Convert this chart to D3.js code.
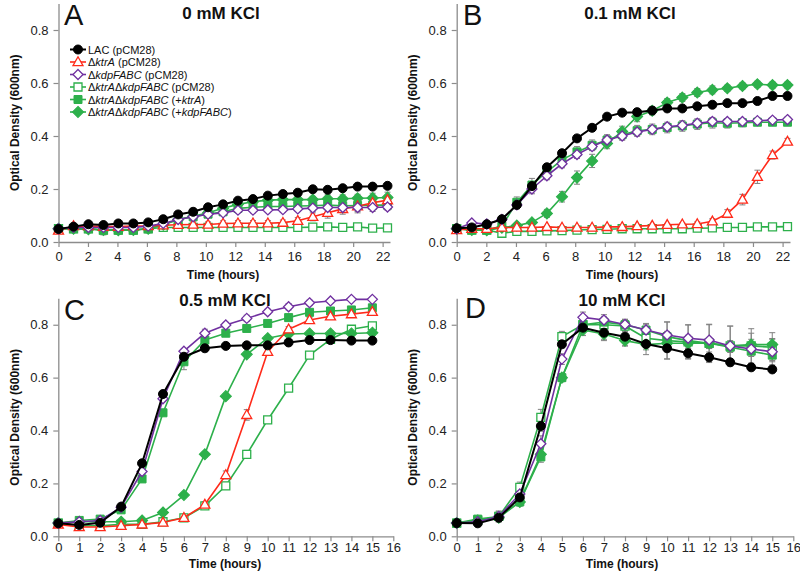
<!DOCTYPE html>
<html><head><meta charset="utf-8">
<script src="https://cdn.jsdelivr.net/npm/d3@7"></script>
<style>
html,body{margin:0;padding:0;background:#fff;}
svg{display:block;font-family:"Liberation Sans",Arial,sans-serif;}
</style></head>
<body><svg id="chart" width="800" height="578"></svg>
<script>
// ---------- DATA ----------
const timesLong = [0,1.02,2.03,3.05,4.06,5.08,6.09,7.11,8.12,9.14,10.15,11.17,12.18,13.2,14.21,15.23,16.24,17.26,18.27,19.29,20.3,21.32,22.33];
const timesShort = [0,1,2,3,4,5,6,7,8,9,10,11,12,13,14,15];
const xTicksLong = [0,2,4,6,8,10,12,14,16,18,20,22];
const xTicksShort = [0,1,2,3,4,5,6,7,8,9,10,11,12,13,14,15,16];
const yTicks = [0,0.2,0.4,0.6,0.8];
const panelTitles = ["0 mM KCl","0.1 mM KCl","0.5 mM KCl","10 mM KCl"];
const panelLetters = ["A","B","C","D"];

// Panel A (0 mM KCl)
const A_lac     = [0.049,0.058,0.067,0.064,0.07,0.07,0.074,0.086,0.104,0.114,0.131,0.142,0.156,0.162,0.175,0.181,0.186,0.199,0.197,0.203,0.209,0.209,0.212];
const A_ktrA    = [0.043,0.06,0.06,0.058,0.058,0.06,0.06,0.063,0.065,0.066,0.066,0.07,0.071,0.071,0.071,0.073,0.08,0.095,0.11,0.125,0.135,0.148,0.158];
const A_kdp     = [0.05,0.055,0.055,0.055,0.055,0.055,0.06,0.07,0.085,0.095,0.105,0.11,0.12,0.12,0.121,0.122,0.125,0.128,0.13,0.13,0.13,0.13,0.132];
const A_dbl     = [0.05,0.05,0.05,0.045,0.045,0.045,0.05,0.055,0.055,0.055,0.055,0.055,0.055,0.055,0.055,0.055,0.055,0.056,0.057,0.055,0.057,0.052,0.053];
const A_dblKtr  = [0.05,0.05,0.05,0.045,0.045,0.045,0.05,0.065,0.085,0.095,0.105,0.114,0.127,0.131,0.134,0.134,0.136,0.137,0.139,0.137,0.138,0.139,0.139];
const A_dblKdp  = [0.05,0.05,0.048,0.045,0.044,0.045,0.05,0.065,0.085,0.097,0.11,0.127,0.142,0.152,0.158,0.16,0.16,0.16,0.163,0.163,0.165,0.166,0.168];
const A_err_lac    = [0,0.004,0.004,0.004,0.004,0.004,0.004,0.005,0.005,0.005,0.005,0.005,0.005,0.005,0.005,0.005,0.005,0.005,0.005,0.005,0.005,0.005,0.005];
const A_err_ktrA   = [0,0.005,0.005,0.008,0.008,0.008,0.008,0.01,0.01,0.01,0.01,0.01,0.01,0.01,0.01,0.01,0.012,0.015,0.02,0.02,0.025,0.02,0.015];
const A_err_kdp    = [0,0.006,0.006,0.008,0.008,0.008,0.008,0.01,0.01,0.01,0.01,0.01,0.01,0.01,0.01,0.01,0.01,0.012,0.012,0.015,0.015,0.015,0.012];
const A_err_dbl    = [0,0.008,0.01,0.018,0.015,0.015,0.015,0.015,0.015,0.015,0.012,0.01,0.01,0.01,0.01,0.008,0.008,0.008,0.008,0.006,0.006,0.005,0.005];
const A_err_dblKtr = [0,0.006,0.006,0.01,0.01,0.01,0.01,0.01,0.01,0.01,0.01,0.01,0.01,0.01,0.01,0.01,0.01,0.01,0.012,0.012,0.012,0.012,0.012];
const A_err_dblKdp = [0,0.006,0.006,0.01,0.01,0.01,0.01,0.01,0.01,0.01,0.01,0.01,0.01,0.01,0.012,0.012,0.012,0.012,0.015,0.015,0.015,0.018,0.02];

// Panel B (0.1 mM KCl)
const B_lac     = [0.052,0.055,0.067,0.086,0.14,0.211,0.282,0.335,0.391,0.431,0.473,0.488,0.49,0.496,0.504,0.504,0.512,0.518,0.524,0.524,0.532,0.551,0.551];
const B_ktrA    = [0.045,0.05,0.05,0.055,0.055,0.055,0.057,0.055,0.055,0.055,0.057,0.057,0.06,0.062,0.065,0.067,0.068,0.078,0.107,0.16,0.246,0.328,0.379];
const B_kdp     = [0.05,0.072,0.068,0.085,0.14,0.2,0.25,0.295,0.33,0.36,0.385,0.4,0.415,0.425,0.435,0.44,0.448,0.455,0.455,0.455,0.458,0.46,0.462];
const B_dbl     = [0.05,0.045,0.045,0.033,0.04,0.04,0.042,0.043,0.045,0.047,0.048,0.05,0.05,0.05,0.05,0.05,0.052,0.053,0.055,0.055,0.057,0.057,0.058];
const B_dblKtr  = [0.05,0.045,0.045,0.06,0.15,0.215,0.265,0.31,0.34,0.365,0.385,0.405,0.42,0.425,0.432,0.438,0.445,0.45,0.448,0.45,0.452,0.452,0.452];
const B_dblKdp  = [0.05,0.045,0.044,0.054,0.062,0.074,0.108,0.171,0.243,0.306,0.372,0.417,0.474,0.495,0.526,0.545,0.564,0.574,0.58,0.589,0.595,0.592,0.592];
const B_err_lac    = [0,0.005,0.005,0.008,0.01,0.01,0.01,0.01,0.01,0.01,0.008,0.008,0.008,0.008,0.008,0.008,0.008,0.008,0.008,0.008,0.008,0.008,0.008];
const B_err_ktrA   = [0,0.005,0.005,0.005,0.005,0.005,0.005,0.005,0.005,0.005,0.005,0.005,0.005,0.005,0.005,0.005,0.008,0.01,0.015,0.02,0.025,0.015,0.012];
const B_err_kdp    = [0,0.008,0.01,0.012,0.015,0.018,0.015,0.015,0.015,0.015,0.015,0.015,0.015,0.012,0.012,0.012,0.012,0.012,0.01,0.01,0.01,0.01,0.01];
const B_err_dbl    = [0,0.005,0.005,0.005,0.004,0.004,0.004,0.004,0.004,0.004,0.004,0.004,0.004,0.004,0.004,0.004,0.004,0.004,0.004,0.004,0.004,0.004,0.004];
const B_err_dblKtr = [0,0.008,0.012,0.015,0.02,0.025,0.02,0.02,0.02,0.02,0.02,0.02,0.02,0.02,0.02,0.02,0.02,0.02,0.018,0.015,0.012,0.012,0.012];
const B_err_dblKdp = [0,0.005,0.005,0.008,0.008,0.01,0.015,0.02,0.025,0.025,0.02,0.02,0.02,0.015,0.015,0.015,0.015,0.015,0.012,0.012,0.012,0.012,0.012];

// Panel C (0.5 mM KCl)
const C_lac     = [0.049,0.043,0.051,0.112,0.276,0.538,0.679,0.711,0.72,0.722,0.722,0.733,0.742,0.742,0.74,0.74];
const C_ktrA    = [0.045,0.035,0.035,0.04,0.045,0.052,0.07,0.12,0.232,0.459,0.698,0.783,0.818,0.832,0.84,0.849];
const C_kdp     = [0.05,0.055,0.06,0.11,0.245,0.52,0.7,0.768,0.799,0.824,0.849,0.868,0.883,0.89,0.896,0.896];
const C_dbl     = [0.05,0.04,0.04,0.045,0.045,0.055,0.07,0.115,0.191,0.31,0.44,0.56,0.685,0.745,0.783,0.796];
const C_dblKtr  = [0.05,0.06,0.065,0.1,0.217,0.467,0.66,0.742,0.768,0.786,0.805,0.827,0.847,0.852,0.856,0.864];
const C_dblKdp  = [0.05,0.055,0.055,0.055,0.06,0.09,0.156,0.31,0.53,0.688,0.749,0.765,0.767,0.767,0.767,0.77];
const C_err_lac    = [0,0.005,0.005,0.008,0.01,0.01,0.01,0.008,0.008,0.008,0.008,0.008,0.008,0.008,0.008,0.01];
const C_err_ktrA   = [0,0.005,0.005,0.005,0.005,0.005,0.008,0.01,0.015,0.02,0.01,0.01,0.01,0.01,0.01,0.01];
const C_err_kdp    = [0,0.005,0.005,0.008,0.01,0.01,0.01,0.015,0.01,0.012,0.01,0.012,0.01,0.008,0.008,0.008];
const C_err_dbl    = [0,0.005,0.005,0.005,0.005,0.005,0.008,0.01,0.012,0.015,0.01,0.01,0.01,0.01,0.01,0.01];
const C_err_dblKtr = [0,0.005,0.005,0.008,0.01,0.01,0.03,0.01,0.01,0.01,0.01,0.012,0.01,0.01,0.01,0.01];
const C_err_dblKdp = [0,0.005,0.005,0.005,0.005,0.005,0.008,0.01,0.01,0.01,0.01,0.01,0.01,0.01,0.01,0.01];

// Panel D (10 mM KCl)
const D_lac     = [0.05,0.049,0.07,0.147,0.417,0.726,0.789,0.77,0.755,0.727,0.711,0.692,0.677,0.658,0.639,0.631];
const D_kdp     = [0.05,0.055,0.075,0.16,0.35,0.67,0.828,0.818,0.801,0.78,0.761,0.749,0.742,0.72,0.708,0.698];
const D_dbl     = [0.05,0.06,0.075,0.185,0.45,0.755,0.8,0.8,0.795,0.749,0.74,0.735,0.73,0.72,0.72,0.715];
const D_dblKtr  = [0.05,0.065,0.075,0.13,0.3,0.6,0.8,0.81,0.8,0.78,0.755,0.74,0.73,0.715,0.7,0.685];
const D_dblKdp  = [0.05,0.06,0.07,0.13,0.31,0.6,0.78,0.765,0.74,0.725,0.73,0.73,0.73,0.72,0.725,0.725];
const D_err_lac    = [0,0.005,0.008,0.01,0.02,0.01,0.03,0.03,0.035,0.04,0.04,0.02,0.02,0.01,0.01,0.005];
const D_err_kdp    = [0,0.01,0.02,0.02,0.03,0.02,0.02,0.02,0.02,0.025,0.05,0.05,0.06,0.075,0.06,0.05];
const D_err_dbl    = [0,0.01,0.02,0.02,0.03,0.02,0.02,0.02,0.02,0.03,0.07,0.065,0.07,0.075,0.065,0.055];
const D_err_dblKtr = [0,0.01,0.015,0.015,0.02,0.015,0.02,0.02,0.02,0.02,0.02,0.02,0.02,0.02,0.02,0.02];
const D_err_dblKdp = [0,0.01,0.015,0.015,0.02,0.015,0.02,0.02,0.02,0.02,0.02,0.02,0.02,0.02,0.02,0.02];

// series styles
const seriesKeys = ["dbl","dblKtr","dblKdp","ktrA","kdp","lac"];
const legendKeys = ["lac","ktrA","kdp","dbl","dblKtr","dblKdp"];
const GREEN = "#2db04b";
const style = {
  lac:    {color:"#000000", shape:"circle",   fill:true,  lw:2},
  ktrA:   {color:"#ff2a1a", shape:"triangle", fill:false, lw:1.6},
  kdp:    {color:"#7030a0", shape:"diamond",  fill:false, lw:1.6},
  dbl:    {color:GREEN,     shape:"square",   fill:false, lw:1.6},
  dblKtr: {color:GREEN,     shape:"square",   fill:true,  lw:1.6},
  dblKdp: {color:GREEN,     shape:"diamond",  fill:true,  lw:1.6}
};
// legend label parts [text, italic]
const legendLabels = {
  lac:    [["LAC (pCM28)",false]],
  ktrA:   [["Δ",false],["ktrA",true],[" (pCM28)",false]],
  kdp:    [["Δ",false],["kdpFABC",true],[" (pCM28)",false]],
  dbl:    [["Δ",false],["ktrA",true],["Δ",false],["kdpFABC",true],[" (pCM28)",false]],
  dblKtr: [["Δ",false],["ktrA",true],["Δ",false],["kdpFABC",true],[" (+",false],["ktrA",true],[")",false]],
  dblKdp: [["Δ",false],["ktrA",true],["Δ",false],["kdpFABC",true],[" (+",false],["kdpFABC",true],[")",false]]
};

const panels = [
  {times:timesLong, ticks:xTicksLong, xmax:22.5, left:58.5, right:390, top:3.5, bottom:242, tickY:19,
   title:panelTitles[0], letter:panelLetters[0], titleX:221, titleY:19, letterX:64, letterY:25, xlabX:223, xlabY:279, ylabX:19, legend:true,
   data:{lac:[A_lac,A_err_lac], ktrA:[A_ktrA,A_err_ktrA], kdp:[A_kdp,A_err_kdp], dbl:[A_dbl,A_err_dbl], dblKtr:[A_dblKtr,A_err_dblKtr], dblKdp:[A_dblKdp,A_err_dblKdp]}},
  {times:timesLong, ticks:xTicksLong, xmax:22.5, left:456.7, right:790, top:3.5, bottom:242, tickY:19,
   title:panelTitles[1], letter:panelLetters[1], titleX:630, titleY:19, letterX:463, letterY:25, xlabX:622, xlabY:279, ylabX:417,
   data:{lac:[B_lac,B_err_lac], ktrA:[B_ktrA,B_err_ktrA], kdp:[B_kdp,B_err_kdp], dbl:[B_dbl,B_err_dbl], dblKtr:[B_dblKtr,B_err_dblKtr], dblKdp:[B_dblKdp,B_err_dblKdp]}},
  {times:timesShort, ticks:xTicksShort, xmax:16, left:58.3, right:393.3, top:298.3, bottom:536.3, tickY:16,
   title:panelTitles[2], letter:panelLetters[2], titleX:225, titleY:306, letterX:64, letterY:320, xlabX:225, xlabY:568, ylabX:19,
   data:{lac:[C_lac,C_err_lac], ktrA:[C_ktrA,C_err_ktrA], kdp:[C_kdp,C_err_kdp], dbl:[C_dbl,C_err_dbl], dblKtr:[C_dblKtr,C_err_dblKtr], dblKdp:[C_dblKdp,C_err_dblKdp]}},
  {times:timesShort, ticks:xTicksShort, xmax:16, left:456.7, right:793.3, top:298.3, bottom:536.3, tickY:16,
   title:panelTitles[3], letter:panelLetters[3], titleX:622, titleY:306, letterX:465, letterY:318, xlabX:622, xlabY:568, ylabX:417,
   data:{lac:[D_lac,D_err_lac], kdp:[D_kdp,D_err_kdp], dbl:[D_dbl,D_err_dbl], dblKtr:[D_dblKtr,D_err_dblKtr], dblKdp:[D_dblKdp,D_err_dblKdp]}}
];

// ---------- DRAW ----------
const svg = d3.select("#chart");
const AXIS = "#8c8c8c";

function markerPath(shape){
  if(shape==="triangle") return "M0,-5.2L5,3.6L-5,3.6Z";
  if(shape==="diamond") return "M0,-5L5,0L0,5L-5,0Z";
  if(shape==="square") return "M-4,-4L4,-4L4,4L-4,4Z";
  return null;
}
function drawMarker(g, shape, color, filled, x, y){
  const fillc = filled ? color : "#fff";
  if(shape==="circle"){
    g.append("circle").attr("cx",x).attr("cy",y).attr("r",4.5).attr("fill",fillc).attr("stroke",color).attr("stroke-width",1);
  } else {
    const s = (shape==="diamond" && filled) ? 1.1 : 1;
    g.append("path").attr("d",markerPath(shape)).attr("transform",`translate(${x},${y}) scale(${s})`)
      .attr("fill",fillc).attr("stroke",color).attr("stroke-width",filled?1:1.3);
  }
}

panels.forEach(P=>{
  const g = svg.append("g");
  const x = d3.scaleLinear().domain([0,P.xmax]).range([P.left,P.right]);
  const y = d3.scaleLinear().domain([0,0.9]).range([P.bottom,P.top]);

  // axes
  const xAxis = d3.axisBottom(x).tickValues(P.ticks).tickFormat(d3.format("d")).tickSize(5).tickSizeOuter(0);
  const yAxis = d3.axisLeft(y).tickValues(yTicks).tickFormat(d3.format(".1f")).tickSize(5).tickSizeOuter(0);
  const gx = g.append("g").attr("transform",`translate(0,${P.bottom})`).call(xAxis);
  const gy = g.append("g").attr("transform",`translate(${P.left},0)`).call(yAxis);
  [gx,gy].forEach(a=>{
    a.select(".domain").attr("stroke",AXIS).attr("stroke-width",1.3);
    a.selectAll(".tick line").attr("stroke",AXIS).attr("stroke-width",1.2);
    a.selectAll(".tick text").attr("fill","#222").style("font-size","13px").style("font-family","'Liberation Sans',Arial,sans-serif");
  });
  gx.selectAll(".tick text").attr("dy",null).attr("y",P.tickY);
  gy.selectAll(".tick text").attr("x",-10);

  // titles
  g.append("text").attr("x",P.titleX).attr("y",P.titleY).attr("text-anchor","middle")
    .style("font-size","17px").style("font-weight","bold").attr("fill","#111").text(P.title);
  g.append("text").attr("x",P.letterX).attr("y",P.letterY)
    .style("font-size","29px").attr("fill","#111").text(P.letter);
  g.append("text").attr("x",P.xlabX).attr("y",P.xlabY).attr("text-anchor","middle")
    .style("font-size","12px").style("font-weight","bold").attr("fill","#111").text("Time (hours)");
  g.append("text").attr("transform",`translate(${P.ylabX},${(P.top+P.bottom)/2}) rotate(-90)`).attr("text-anchor","middle")
    .style("font-size","12px").style("font-weight","bold").attr("fill","#111").text("Optical Density (600nm)");

  // error bars
  const eg = g.append("g");
  seriesKeys.forEach(k=>{
    if(!P.data[k]) return;
    const [vals, errs] = P.data[k];
    vals.forEach((v,i)=>{
      const e = errs[i]; if(!e) return;
      const cx = x(P.times[i]);
      eg.append("line").attr("x1",cx).attr("x2",cx).attr("y1",y(v-e)).attr("y2",y(v+e)).attr("stroke","#808080").attr("stroke-width",1);
      [v-e,v+e].forEach(w=>eg.append("line").attr("x1",cx-3).attr("x2",cx+3).attr("y1",y(w)).attr("y2",y(w)).attr("stroke","#808080").attr("stroke-width",1));
    });
  });

  // lines + markers
  seriesKeys.forEach(k=>{
    if(!P.data[k]) return;
    const st = style[k];
    const vals = P.data[k][0];
    const pts = vals.map((v,i)=>[P.times[i],v]);
    const line = d3.line().x(d=>x(d[0])).y(d=>y(d[1]));
    g.append("path").attr("d",line(pts)).attr("fill","none").attr("stroke",st.color).attr("stroke-width",st.lw).attr("stroke-linejoin","round");
    const mg = g.append("g");
    pts.forEach(d=>drawMarker(mg, st.shape, st.color, st.fill, x(d[0]), y(d[1])));
  });

  // legend
  if(P.legend){
    const lg = g.append("g");
    legendKeys.forEach((k,i)=>{
      const st = style[k];
      const cy = 49.5 + i*12.5;
      lg.append("line").attr("x1",70).attr("x2",86).attr("y1",cy).attr("y2",cy).attr("stroke",st.color).attr("stroke-width",st.lw);
      drawMarker(lg, st.shape, st.color, st.fill, 78, cy);
      const t = lg.append("text").attr("x",88).attr("y",cy+4).style("font-size","11px").attr("fill","#111");
      legendLabels[k].forEach(([s,it])=>{
        t.append("tspan").style("font-style",it?"italic":"normal").text(s);
      });
    });
  }
});
</script>
</body></html>
